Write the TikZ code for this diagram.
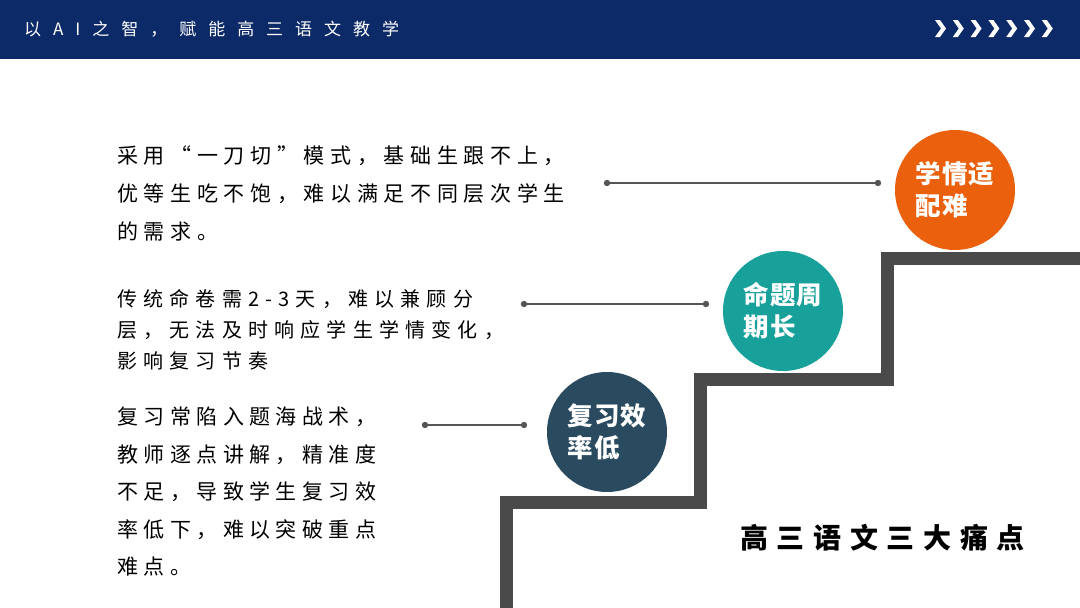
\documentclass[tikz,border=0pt]{standalone}
\usepackage{fontspec}
\newfontfamily\kai{Noto Sans CJK SC}
\newfontfamily\cjk{Noto Sans CJK SC}
\definecolor{navy}{HTML}{0D2A68}
\definecolor{stairgray}{HTML}{4A4A4A}
\definecolor{porange}{HTML}{EA600C}
\definecolor{pteal}{HTML}{17A19A}
\definecolor{pslate}{HTML}{2A4B5F}
\definecolor{conngray}{HTML}{555555}
\tikzset{
  circ/.style={circle, minimum size=120pt, inner sep=0pt, text=white, align=left,
    font={\cjk\bfseries\fontsize{25.5}{32}\selectfont\addfontfeature{LetterSpace=3}}},
  conn/.style={draw=conngray, line width=1.4pt},
  dotpt/.style={fill=conngray},
  stairline/.style={draw=stairgray, line width=13pt, line join=miter},
  bodytext/.style={anchor=north west, inner sep=0pt, align=left, text=black},
  chev/.style={fill=white, draw=none}
}
\begin{document}
\begin{tikzpicture}[x=1pt, y=-1pt]
\useasboundingbox (0,0) rectangle (1080,608);
\fill[white] (0,0) rectangle (1080,608);
% header band
\fill[navy] (0,0) rectangle (1080,59);
\node[anchor=west, inner sep=0pt, text=white,
  font={\cjk\fontsize{17}{20}\selectfont\addfontfeature{LetterSpace=48}}] (title) at (24,29)
  {以 A I 之 智 ， 赋 能 高 三 语 文 教 学};
\foreach \i in {0,...,6} {
  \fill[chev] ({935+17.8*\i},20) -- ({940+17.8*\i},20) -- ({946+17.8*\i},28.5)
    -- ({940+17.8*\i},37) -- ({935+17.8*\i},37) -- ({941+17.8*\i},28.5) -- cycle;
}
% staircase
\draw[stairline] (506,608) -- (506,502) -- (700,502) -- (700,379) -- (887,379) -- (887,258) -- (1080,258);
% circles
\node[circ, fill=porange] (p3) at (955,190) {学情适\\配难};
\node[circ, fill=pteal] (p2) at (783,311) {命题周\\期长};
\node[circ, fill=pslate] (p1) at (607,432) {复习效\\率低};
% texts
\node[bodytext, font={\kai\fontsize{21}{38}\selectfont\addfontfeature{LetterSpace=27}}] (t3) at (117,146)
  {采用“一刀切”模式，基础生跟不上，\\优等生吃不饱，难以满足不同层次学生\\的需求。};
\node[bodytext, font={\kai\fontsize{20}{31}\selectfont\addfontfeature{LetterSpace=31}}] (t2) at (117,289)
  {传统命卷需2-3天，难以兼顾分\\层，无法及时响应学生学情变化，\\影响复习节奏};
\node[bodytext, font={\kai\fontsize{21}{37.5}\selectfont\addfontfeature{LetterSpace=26}}] (t1) at (117,407)
  {复习常陷入题海战术，\\教师逐点讲解，精准度\\不足，导致学生复习效\\率低下，难以突破重点\\难点。};
\node[anchor=north west, inner sep=0pt,
  font={\kai\bfseries\fontsize{28}{36}\selectfont\addfontfeature{LetterSpace=31}}] (head) at (740,524)
  {高三语文三大痛点};
% connectors
\coordinate (c3a) at (607,183); \coordinate (c3b) at (878,183);
\coordinate (c2a) at (524,304); \coordinate (c2b) at (706,304);
\coordinate (c1a) at (425,425); \coordinate (c1b) at (524,425);
\foreach \a/\b in {c3a/c3b, c2a/c2b, c1a/c1b} {
  \draw[conn] (\a) -- (\b);
  \fill[dotpt] (\a) circle (3.2pt);
  \fill[dotpt] (\b) circle (3.2pt);
}
\end{tikzpicture}
\end{document}
